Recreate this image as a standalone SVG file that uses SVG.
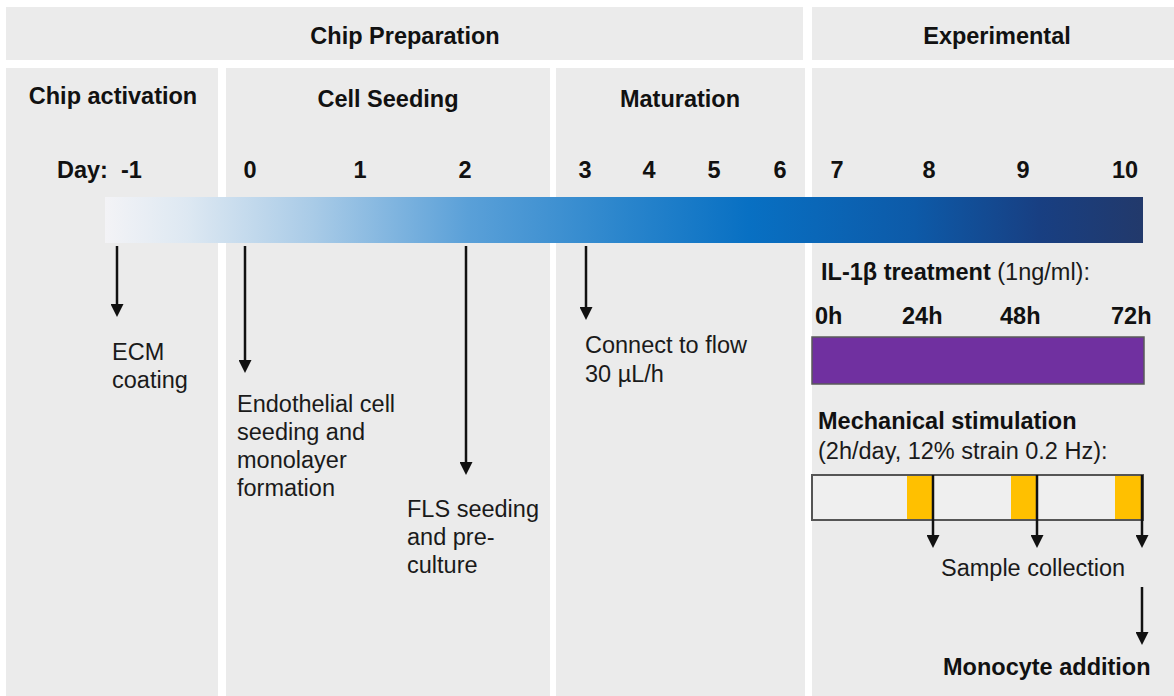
<svg xmlns="http://www.w3.org/2000/svg" width="1174" height="696" viewBox="0 0 1174 696">
  <style>
    .panel { fill: #ebebeb; }
    text { font-family: "Liberation Sans", Arial, sans-serif; font-size: 23.5px; fill: #1a1a1a; }
    .b { font-weight: bold; fill: #111; }
    .m { text-anchor: middle; }
    .arrow { stroke: #111; stroke-width: 2.5; fill: none; marker-end: url(#ah); }
  </style>
  <defs>
    <marker id="ah" viewBox="0 0 13 13" refX="5" refY="6.5" markerWidth="13" markerHeight="13" markerUnits="userSpaceOnUse" orient="auto">
      <path d="M0,0 L13,6.5 L0,13 z" fill="#111"/>
    </marker>
    <linearGradient id="tl" x1="0" y1="0" x2="1" y2="0">
      <stop offset="0" stop-color="#f3f3f6"/>
      <stop offset="0.08" stop-color="#dde8f2"/>
      <stop offset="0.2" stop-color="#a9cbe7"/>
      <stop offset="0.35" stop-color="#5aa0d8"/>
      <stop offset="0.5" stop-color="#2a85cc"/>
      <stop offset="0.62" stop-color="#0870c3"/>
      <stop offset="0.78" stop-color="#0d5aa8"/>
      <stop offset="0.9" stop-color="#183f82"/>
      <stop offset="1" stop-color="#22396b"/>
    </linearGradient>
  </defs>
  <rect x="0" y="0" width="1174" height="696" fill="#ffffff"/>

  <g id="header-prep">
    <rect class="panel" x="6" y="7" width="797" height="53"/>
    <text class="b m" x="405" y="44">Chip Preparation</text>
  </g>
  <g id="header-exp">
    <rect class="panel" x="812" y="7" width="362" height="53"/>
    <text class="b m" x="997" y="44">Experimental</text>
  </g>

  <g id="panel-activation">
    <rect class="panel" x="6" y="68" width="212" height="628"/>
    <text class="b m" x="113" y="104">Chip activation</text>
  </g>
  <g id="panel-seeding">
    <rect class="panel" x="226" y="68" width="324" height="628"/>
    <text class="b m" x="388" y="107">Cell Seeding</text>
  </g>
  <g id="panel-maturation">
    <rect class="panel" x="556" y="68" width="249" height="628"/>
    <text class="b m" x="680" y="107">Maturation</text>
  </g>
  <g id="panel-experimental">
    <rect class="panel" x="812" y="68" width="362" height="628"/>
  </g>

  <g id="day-labels">
    <text class="b" x="57" y="178">Day:</text>
    <text class="b" x="121" y="178">-1</text>
    <text class="b m" x="250" y="178">0</text>
    <text class="b m" x="360" y="178">1</text>
    <text class="b m" x="465" y="178">2</text>
    <text class="b m" x="585" y="178">3</text>
    <text class="b m" x="649" y="178">4</text>
    <text class="b m" x="714" y="178">5</text>
    <text class="b m" x="780" y="178">6</text>
    <text class="b m" x="837" y="178">7</text>
    <text class="b m" x="929" y="178">8</text>
    <text class="b m" x="1023" y="178">9</text>
    <text class="b m" x="1125" y="178">10</text>
  </g>

  <g id="timeline-bar">
    <rect x="105" y="197" width="1038" height="46" fill="url(#tl)"/>
  </g>

  <g id="ecm">
    <text x="112" y="360">ECM</text>
    <text x="112" y="388">coating</text>
  </g>
  <g id="endothelial">
    <text x="237" y="412">Endothelial cell</text>
    <text x="237" y="440">seeding and</text>
    <text x="237" y="468">monolayer</text>
    <text x="237" y="496">formation</text>
  </g>
  <g id="fls">
    <text x="407" y="517">FLS seeding</text>
    <text x="407" y="545">and pre-</text>
    <text x="407" y="573">culture</text>
  </g>
  <g id="flow">
    <text x="585" y="353">Connect to flow</text>
    <text x="585" y="382">30 µL/h</text>
  </g>

  <g id="il1b">
    <text x="821" y="280"><tspan class="b">IL-1β treatment</tspan> (1ng/ml):</text>
    <text class="b" x="815" y="324">0h</text>
    <text class="b" x="902" y="324">24h</text>
    <text class="b" x="1000" y="324">48h</text>
    <text class="b" x="1111" y="324">72h</text>
    <rect x="812" y="337" width="332" height="47" fill="#7030a0" stroke="#5a5a5a" stroke-width="1.5"/>
  </g>

  <g id="mechanical">
    <text class="b" x="818" y="429">Mechanical stimulation</text>
    <text x="818" y="459">(2h/day, 12% strain 0.2 Hz):</text>
    <rect x="812" y="475" width="331" height="45" fill="#efefef" stroke="#555" stroke-width="2"/>
    <rect x="907" y="476" width="26" height="43" fill="#ffc000"/>
    <rect x="1011" y="476" width="26" height="43" fill="#ffc000"/>
    <rect x="1115" y="476" width="27" height="43" fill="#ffc000"/>
  </g>

  <g id="sample-collection">
    <text x="941" y="576">Sample collection</text>
  </g>
  <g id="monocyte">
    <text class="b" x="943" y="675">Monocyte addition</text>
  </g>

  <g id="connectors">
    <line class="arrow" x1="117" y1="246" x2="117" y2="309"/>
    <line class="arrow" x1="245" y1="246" x2="245" y2="365"/>
    <line class="arrow" x1="466" y1="246" x2="466" y2="467"/>
    <line class="arrow" x1="586" y1="246" x2="586" y2="312"/>
    <line class="arrow" x1="933" y1="475" x2="933" y2="540"/>
    <line class="arrow" x1="1037" y1="475" x2="1037" y2="540"/>
    <line class="arrow" x1="1142" y1="475" x2="1142" y2="540"/>
    <line class="arrow" x1="1142" y1="587" x2="1142" y2="637"/>
  </g>
</svg>
